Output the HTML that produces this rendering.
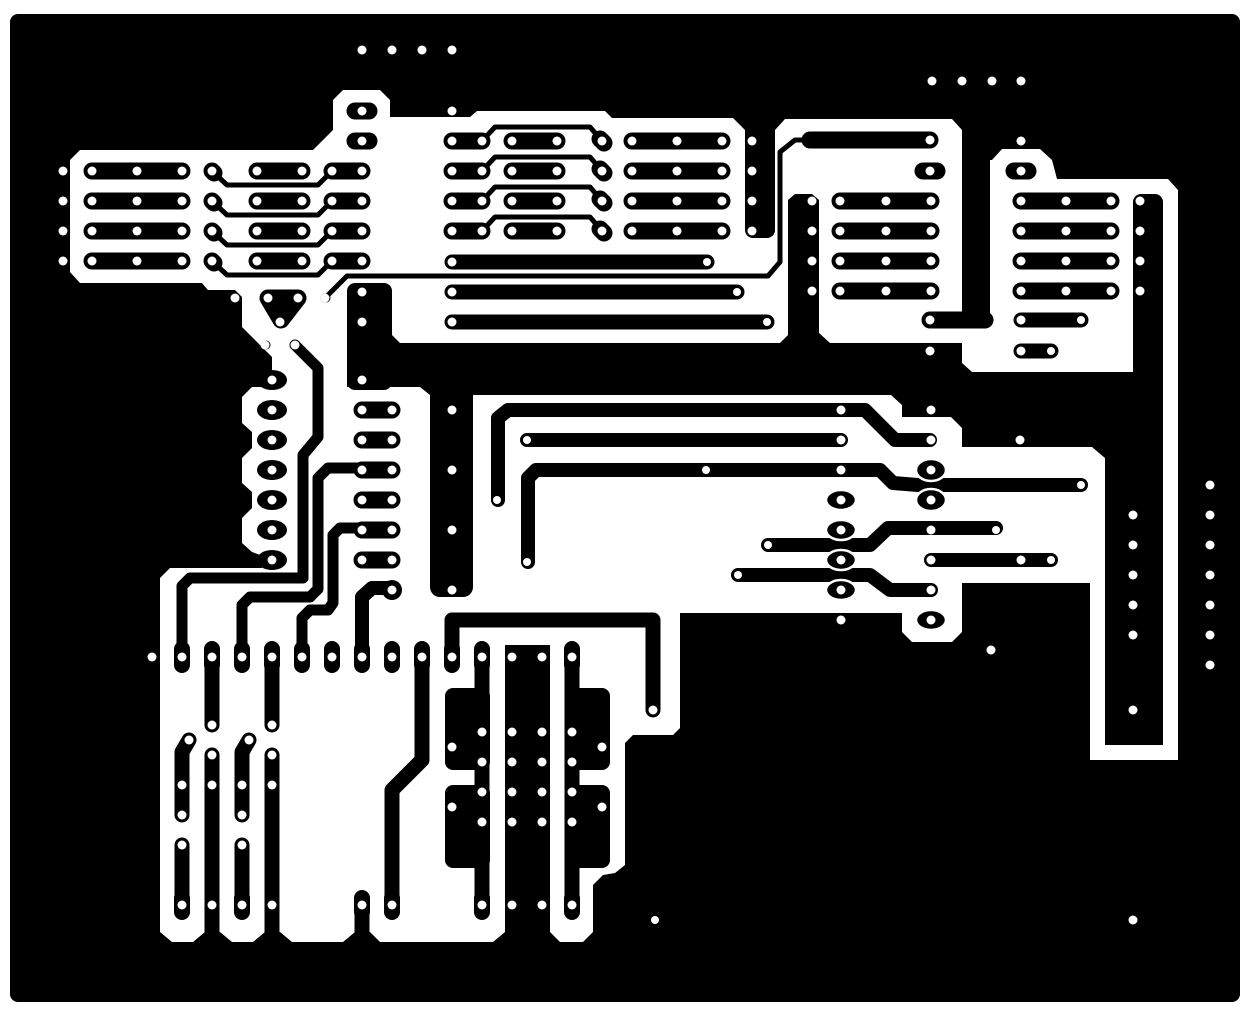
<!DOCTYPE html>
<html><head><meta charset="utf-8"><style>html,body{margin:0;padding:0;background:#fff;}svg{display:block}</style></head>
<body>
<svg width="1250" height="1015" viewBox="0 0 1250 1015" xmlns="http://www.w3.org/2000/svg">
<rect x="0" y="0" width="1250" height="1015" fill="#fff"/>
<rect x="10" y="14" width="1230" height="988" rx="8" fill="#000"/>
<g fill="#fff">
<polygon points="70,160 80,150 313,150 333,130 333,100 343,90 380,90 390,100 390,117 470,117 477,111 605,111 612,118 733,118 745,130 775,130 785,119 952,119 962,130 962,160 992,160 1002,149 1040,149 1052,160 1057,179 1168,179 1178,190 1178,372 972,372 962,363 962,343 400,343 392,335 392,290 208,290 202,283 80,283 70,272"/>
<polygon points="202,283 347,283 347,387 420,387 430,395 891,395 902,405 902,417 951,417 962,428 962,447 1092,447 1105,458 1105,583 962,583 962,632 952,642 912,642 902,632 902,613 680,613 680,728 673,735 633,735 625,743 625,865 615,873 603,875 593,885 593,932 583,942 560,942 550,932 505,932 493,942 380,942 370,932 355,932 343,942 292,942 280,932 265,932 253,942 232,942 220,932 205,932 193,942 172,942 160,932 160,578 170,568 262,568 260,555 252,552 242,543 242,518 252,508 252,492 242,483 242,458 252,448 252,432 242,423 242,397 252,387 262,387 272,372 272,357 242,327 242,297 235,290 208,290"/>
<rect x="1090" y="575" width="15" height="185"/>
<rect x="1090" y="745" width="88" height="15" rx="6"/>
<rect x="1163" y="190" width="15" height="570"/>
</g>
<g fill="#000">
<rect x="745" y="118" width="30" height="120" rx="8"/>
<rect x="962" y="120" width="28" height="208" rx="8"/>
<polygon points="788,200 795,194 812,194 819,200 819,333 830,343 780,343 788,335"/>
<rect x="1133" y="194" width="30" height="186" rx="8"/>
<rect x="347" y="283" width="45" height="107" rx="8"/>
<rect x="430" y="380" width="43" height="217" rx="10"/>
<rect x="505" y="645" width="45" height="345"/>
<rect x="445" y="688" width="45" height="82" rx="8"/>
<rect x="445" y="785" width="45" height="83" rx="8"/>
<rect x="565" y="688" width="45" height="82" rx="8"/>
<rect x="565" y="785" width="45" height="83" rx="8"/>
</g>
<g stroke="#000" fill="none" stroke-linecap="round" stroke-linejoin="round">
<g stroke-width="17">
<line x1="92" y1="171" x2="182" y2="171"/><line x1="92" y1="201" x2="182" y2="201"/><line x1="92" y1="231" x2="182" y2="231"/><line x1="92" y1="261" x2="182" y2="261"/>
<line x1="257" y1="171" x2="302" y2="171"/><line x1="257" y1="201" x2="302" y2="201"/><line x1="257" y1="231" x2="302" y2="231"/><line x1="257" y1="261" x2="302" y2="261"/>
<line x1="332" y1="171" x2="362" y2="171"/><line x1="332" y1="201" x2="362" y2="201"/><line x1="332" y1="231" x2="362" y2="231"/><line x1="332" y1="261" x2="362" y2="261"/>
<line x1="212" y1="171" x2="214" y2="173"/><line x1="212" y1="201" x2="214" y2="203"/><line x1="212" y1="231" x2="214" y2="233"/><line x1="212" y1="261" x2="214" y2="263"/>
<line x1="355" y1="111" x2="369" y2="111"/><line x1="355" y1="141" x2="369" y2="141"/>
<line x1="452" y1="141" x2="482" y2="141"/><line x1="452" y1="171" x2="482" y2="171"/><line x1="452" y1="201" x2="482" y2="201"/><line x1="452" y1="231" x2="482" y2="231"/>
<line x1="512" y1="141" x2="557" y2="141"/><line x1="512" y1="171" x2="557" y2="171"/><line x1="512" y1="201" x2="557" y2="201"/><line x1="512" y1="231" x2="557" y2="231"/>
<line x1="632" y1="141" x2="722" y2="141"/><line x1="632" y1="171" x2="722" y2="171"/><line x1="632" y1="201" x2="722" y2="201"/><line x1="632" y1="231" x2="722" y2="231"/>
<line x1="600" y1="139" x2="604" y2="143"/><line x1="600" y1="169" x2="604" y2="173"/><line x1="600" y1="199" x2="604" y2="203"/><line x1="600" y1="229" x2="604" y2="233"/>
<line x1="810" y1="140" x2="930" y2="140"/>
<line x1="923" y1="171" x2="937" y2="171"/>
<line x1="840" y1="201" x2="931" y2="201"/><line x1="840" y1="231" x2="931" y2="231"/><line x1="840" y1="261" x2="931" y2="261"/><line x1="840" y1="291" x2="931" y2="291"/>
<line x1="1021" y1="201" x2="1111" y2="201"/><line x1="1021" y1="231" x2="1111" y2="231"/><line x1="1021" y1="261" x2="1111" y2="261"/><line x1="1021" y1="291" x2="1111" y2="291"/>
<line x1="930" y1="320" x2="985" y2="320"/>
<line x1="1014" y1="171" x2="1028" y2="171"/>
<line x1="362" y1="410" x2="392" y2="410"/><line x1="362" y1="440" x2="392" y2="440"/><line x1="362" y1="470" x2="392" y2="470"/><line x1="362" y1="500" x2="392" y2="500"/><line x1="362" y1="530" x2="392" y2="530"/><line x1="362" y1="560" x2="392" y2="560"/>
</g>
<g stroke-width="15">
<line x1="452" y1="262" x2="707" y2="262"/><line x1="452" y1="292" x2="737" y2="292"/><line x1="452" y1="322" x2="767" y2="322"/>
<line x1="1021" y1="320" x2="1081" y2="320"/><line x1="1021" y1="351" x2="1051" y2="351"/>
</g>
<g stroke-width="5">
<polyline points="212,171 227,185 318,185 332,171"/><polyline points="212,201 227,215 318,215 332,201"/><polyline points="212,231 227,245 318,245 332,231"/><polyline points="212,261 227,275 318,275 332,261"/>
<polyline points="482,141 495,127 590,127 602,141"/><polyline points="482,171 495,157 590,157 602,171"/><polyline points="482,201 495,187 590,187 602,201"/><polyline points="482,231 495,217 590,217 602,231"/>
<polyline points="325,298 347,276 768,276 780,262 780,152 795,140 930,140"/>
</g>
<polygon points="268,298 298,298 281,320" stroke-width="17" fill="#000"/>
<g stroke-width="11">
<polyline points="182,657 182,586 190,578 303,578 303,455 318,437 318,368 295,345"/>
<polyline points="242,657 242,605 250,597 310,597 318,589 318,478 328,468 392,468"/>
<polyline points="302,657 302,618 310,610 328,610 333,603 333,535 340,528 392,528"/>
</g>
<polyline points="362,657 362,597 372,588 392,588" stroke-width="14"/>
<g stroke-width="9"><line x1="235" y1="298" x2="236" y2="298"/><line x1="325" y1="298" x2="326" y2="298"/><line x1="265" y1="345" x2="266" y2="345"/><line x1="295" y1="345" x2="296" y2="345"/></g>
<g stroke-width="14">
<polyline points="498,500 498,418 508,410 865,410 895,440 930,440"/>
<line x1="527" y1="440" x2="841" y2="440"/>
<polyline points="528,562 528,478 536,470 880,470 893,483 918,485"/>
<line x1="918" y1="485" x2="1081" y2="485"/>
<polyline points="768,545 870,545 888,528 996,528"/>
<polyline points="738,575 870,575 890,590 931,590"/>
<line x1="931" y1="560" x2="1051" y2="560"/>
</g>
<g stroke-width="15">
<line x1="212" y1="657" x2="212" y2="725"/><line x1="272" y1="657" x2="272" y2="725"/>
<polyline points="189,740 182,752 182,815"/><polyline points="249,740 242,752 242,815"/>
<line x1="182" y1="845" x2="182" y2="905"/><line x1="242" y1="845" x2="242" y2="905"/>
<line x1="212" y1="755" x2="212" y2="985"/><line x1="272" y1="755" x2="272" y2="985"/>
<line x1="362" y1="905" x2="362" y2="985"/>
<polyline points="422,657 422,760 392,790 392,905"/>
<polyline points="452,657 452,620 653,620 653,710"/>
<line x1="482" y1="657" x2="482" y2="905"/><line x1="572" y1="657" x2="572" y2="905"/>
</g>
</g>
<g fill="#000">
<ellipse cx="272" cy="380" rx="15" ry="10"/><ellipse cx="272" cy="410" rx="15" ry="10"/><ellipse cx="272" cy="440" rx="15" ry="10"/><ellipse cx="272" cy="470" rx="15" ry="10"/><ellipse cx="272" cy="500" rx="15" ry="10"/><ellipse cx="272" cy="530" rx="15" ry="10"/><ellipse cx="272" cy="560" rx="15" ry="10"/>
<circle cx="392" cy="590" r="10"/>
</g>
<g fill="#000" stroke="#fff" stroke-width="2.5">
<ellipse cx="931" cy="470" rx="15" ry="11"/><ellipse cx="931" cy="500" rx="15" ry="11"/>
<ellipse cx="841" cy="500" rx="15" ry="10"/><ellipse cx="841" cy="530" rx="15" ry="10"/><ellipse cx="841" cy="560" rx="15" ry="10"/><ellipse cx="841" cy="590" rx="15" ry="10"/>
<ellipse cx="931" cy="620" rx="15" ry="10"/>
</g>
<g fill="#000">
<rect x="174" y="641" width="16" height="32" rx="8"/><rect x="204" y="641" width="16" height="32" rx="8"/><rect x="234" y="641" width="16" height="32" rx="8"/><rect x="264" y="641" width="16" height="32" rx="8"/><rect x="294" y="641" width="16" height="32" rx="8"/><rect x="324" y="641" width="16" height="32" rx="8"/><rect x="354" y="641" width="16" height="32" rx="8"/><rect x="384" y="641" width="16" height="32" rx="8"/><rect x="414" y="641" width="16" height="32" rx="8"/><rect x="444" y="641" width="16" height="32" rx="8"/><rect x="474" y="641" width="16" height="32" rx="8"/><rect x="564" y="641" width="16" height="32" rx="8"/>
<rect x="174" y="890" width="16" height="30" rx="8"/><rect x="234" y="890" width="16" height="30" rx="8"/><rect x="384" y="890" width="16" height="30" rx="8"/><rect x="474" y="890" width="16" height="30" rx="8"/><rect x="564" y="890" width="16" height="30" rx="8"/><rect x="354" y="890" width="16" height="30" rx="8"/>
</g>
<g fill="#fff">
<circle cx="362" cy="50" r="4.5"/><circle cx="392" cy="50" r="4.5"/><circle cx="422" cy="50" r="4.5"/><circle cx="452" cy="50" r="4.5"/>
<circle cx="932" cy="81" r="4.5"/><circle cx="962" cy="81" r="4.5"/><circle cx="992" cy="81" r="4.5"/><circle cx="1021" cy="81" r="4.5"/>
<circle cx="452" cy="111" r="4.5"/><circle cx="362" cy="111" r="4.5"/><circle cx="362" cy="141" r="4.5"/><circle cx="1021" cy="141" r="4.5"/>
<g id="lr">
<circle cx="63" cy="171" r="4.5"/><circle cx="92" cy="171" r="4.5"/><circle cx="137" cy="171" r="4.5"/><circle cx="182" cy="171" r="4.5"/><circle cx="212" cy="171" r="4.5"/><circle cx="257" cy="171" r="4.5"/><circle cx="302" cy="171" r="4.5"/><circle cx="332" cy="171" r="4.5"/><circle cx="362" cy="171" r="4.5"/>
</g>
<use href="#lr" y="30"/><use href="#lr" y="60"/><use href="#lr" y="90"/>
<g id="mr">
<circle cx="452" cy="141" r="4.5"/><circle cx="482" cy="141" r="4.5"/><circle cx="512" cy="141" r="4.5"/><circle cx="557" cy="141" r="4.5"/><circle cx="602" cy="141" r="4.5"/><circle cx="632" cy="141" r="4.5"/><circle cx="677" cy="141" r="4.5"/><circle cx="722" cy="141" r="4.5"/><circle cx="752" cy="141" r="4.5"/>
</g>
<use href="#mr" y="30"/><use href="#mr" y="60"/><use href="#mr" y="90"/>
<circle cx="452" cy="262" r="4.5"/><circle cx="707" cy="262" r="4"/><circle cx="452" cy="292" r="4.5"/><circle cx="737" cy="292" r="4"/><circle cx="452" cy="322" r="4.5"/><circle cx="767" cy="322" r="4"/>
<circle cx="930" cy="140" r="4.5"/><circle cx="930" cy="171" r="4.5"/>
<g id="rr">
<circle cx="812" cy="201" r="4.5"/><circle cx="840" cy="201" r="4.5"/><circle cx="886" cy="201" r="4.5"/><circle cx="931" cy="201" r="4.5"/><circle cx="1021" cy="201" r="4.5"/><circle cx="1066" cy="201" r="4.5"/><circle cx="1111" cy="201" r="4.5"/><circle cx="1140" cy="201" r="4.5"/>
</g>
<use href="#rr" y="30"/><use href="#rr" y="60"/><use href="#rr" y="90"/>
<circle cx="930" cy="320" r="4.5"/><circle cx="930" cy="351" r="4.5"/><circle cx="1021" cy="320" r="4.5"/><circle cx="1081" cy="320" r="4"/><circle cx="1021" cy="351" r="4.5"/><circle cx="1051" cy="351" r="4"/><circle cx="1021" cy="171" r="4.5"/>
<circle cx="235" cy="298" r="4.5"/><circle cx="268" cy="298" r="4.5"/><circle cx="298" cy="298" r="4.5"/><circle cx="280" cy="322" r="4.5"/><circle cx="325" cy="298" r="4.5"/><circle cx="265" cy="345" r="4.5"/><circle cx="295" cy="345" r="4.5"/>
<circle cx="362" cy="292" r="4.5"/><circle cx="362" cy="322" r="4.5"/><circle cx="362" cy="380" r="4.5"/>
<circle cx="272" cy="380" r="4.5"/><circle cx="272" cy="410" r="4.5"/><circle cx="272" cy="440" r="4.5"/><circle cx="272" cy="470" r="4.5"/><circle cx="272" cy="500" r="4.5"/><circle cx="272" cy="530" r="4.5"/><circle cx="272" cy="560" r="4.5"/>
<circle cx="362" cy="410" r="4.5"/><circle cx="392" cy="410" r="4.5"/><circle cx="362" cy="440" r="4.5"/><circle cx="392" cy="440" r="4.5"/><circle cx="362" cy="470" r="4.5"/><circle cx="392" cy="470" r="4.5"/><circle cx="362" cy="500" r="4.5"/><circle cx="392" cy="500" r="4.5"/><circle cx="362" cy="530" r="4.5"/><circle cx="392" cy="530" r="4.5"/><circle cx="362" cy="560" r="4.5"/><circle cx="392" cy="560" r="4.5"/><circle cx="392" cy="590" r="4.5"/>
<circle cx="452" cy="410" r="4.5"/><circle cx="452" cy="470" r="4.5"/><circle cx="452" cy="530" r="4.5"/><circle cx="452" cy="590" r="4.5"/>
<circle cx="497" cy="500" r="4"/><circle cx="527" cy="562" r="4"/><circle cx="527" cy="440" r="4"/>
<circle cx="841" cy="410" r="4.5"/><circle cx="931" cy="410" r="4.5"/><circle cx="841" cy="440" r="4.5"/><circle cx="931" cy="440" r="4.5"/><circle cx="706" cy="470" r="4"/><circle cx="841" cy="470" r="4.5"/><circle cx="931" cy="470" r="4.5"/><circle cx="1081" cy="485" r="4"/><circle cx="841" cy="500" r="4.5"/><circle cx="931" cy="500" r="4.5"/><circle cx="768" cy="545" r="4"/><circle cx="841" cy="530" r="4.5"/><circle cx="931" cy="530" r="4.5"/><circle cx="996" cy="530" r="4"/><circle cx="738" cy="575" r="4"/><circle cx="841" cy="560" r="4.5"/><circle cx="931" cy="560" r="4.5"/><circle cx="1021" cy="560" r="4.5"/><circle cx="1051" cy="560" r="4"/><circle cx="841" cy="590" r="4.5"/><circle cx="931" cy="590" r="4.5"/><circle cx="841" cy="620" r="4.5"/><circle cx="931" cy="620" r="4.5"/><circle cx="991" cy="650" r="4.5"/><circle cx="1020" cy="440" r="4.5"/>
<circle cx="1133" cy="515" r="4.5"/><circle cx="1133" cy="545" r="4.5"/><circle cx="1133" cy="575" r="4.5"/><circle cx="1133" cy="605" r="4.5"/><circle cx="1133" cy="635" r="4.5"/><circle cx="1133" cy="710" r="4.5"/><circle cx="1133" cy="920" r="4.5"/>
<circle cx="1210" cy="485" r="4.5"/><circle cx="1210" cy="515" r="4.5"/><circle cx="1210" cy="545" r="4.5"/><circle cx="1210" cy="575" r="4.5"/><circle cx="1210" cy="605" r="4.5"/><circle cx="1210" cy="635" r="4.5"/><circle cx="1210" cy="665" r="4.5"/>
<circle cx="152" cy="657" r="4.5"/><circle cx="182" cy="657" r="4.5"/><circle cx="212" cy="657" r="4.5"/><circle cx="242" cy="657" r="4.5"/><circle cx="272" cy="657" r="4.5"/><circle cx="302" cy="657" r="4.5"/><circle cx="332" cy="657" r="4.5"/><circle cx="362" cy="657" r="4.5"/><circle cx="392" cy="657" r="4.5"/><circle cx="422" cy="657" r="4.5"/><circle cx="452" cy="657" r="4.5"/><circle cx="482" cy="657" r="4.5"/><circle cx="512" cy="657" r="4.5"/><circle cx="542" cy="657" r="4.5"/><circle cx="572" cy="657" r="4.5"/>
<circle cx="653" cy="710" r="4.5"/><circle cx="655" cy="920" r="4"/>
<circle cx="212" cy="725" r="4.5"/><circle cx="272" cy="725" r="4.5"/><circle cx="189" cy="740" r="4.5"/><circle cx="249" cy="740" r="4.5"/><circle cx="452" cy="747" r="4.5"/><circle cx="602" cy="747" r="4.5"/><circle cx="212" cy="755" r="4.5"/><circle cx="272" cy="755" r="4.5"/>
<circle cx="482" cy="732" r="4.5"/><circle cx="512" cy="732" r="4.5"/><circle cx="542" cy="732" r="4.5"/><circle cx="572" cy="732" r="4.5"/>
<circle cx="482" cy="762" r="4.5"/><circle cx="512" cy="762" r="4.5"/><circle cx="542" cy="762" r="4.5"/><circle cx="572" cy="762" r="4.5"/>
<circle cx="482" cy="792" r="4.5"/><circle cx="512" cy="792" r="4.5"/><circle cx="542" cy="792" r="4.5"/><circle cx="572" cy="792" r="4.5"/>
<circle cx="482" cy="822" r="4.5"/><circle cx="512" cy="822" r="4.5"/><circle cx="542" cy="822" r="4.5"/><circle cx="572" cy="822" r="4.5"/>
<circle cx="452" cy="807" r="4.5"/><circle cx="602" cy="807" r="4.5"/>
<circle cx="182" cy="785" r="4.5"/><circle cx="212" cy="785" r="4.5"/><circle cx="242" cy="785" r="4.5"/><circle cx="272" cy="785" r="4.5"/>
<circle cx="182" cy="815" r="4.5"/><circle cx="242" cy="815" r="4.5"/><circle cx="182" cy="845" r="4.5"/><circle cx="242" cy="845" r="4.5"/>
<circle cx="182" cy="905" r="4.5"/><circle cx="212" cy="905" r="4.5"/><circle cx="242" cy="905" r="4.5"/><circle cx="272" cy="905" r="4.5"/><circle cx="362" cy="905" r="4.5"/><circle cx="392" cy="905" r="4.5"/><circle cx="482" cy="905" r="4.5"/><circle cx="512" cy="905" r="4.5"/><circle cx="542" cy="905" r="4.5"/><circle cx="572" cy="905" r="4.5"/>
</g>
</svg>
</body></html>
